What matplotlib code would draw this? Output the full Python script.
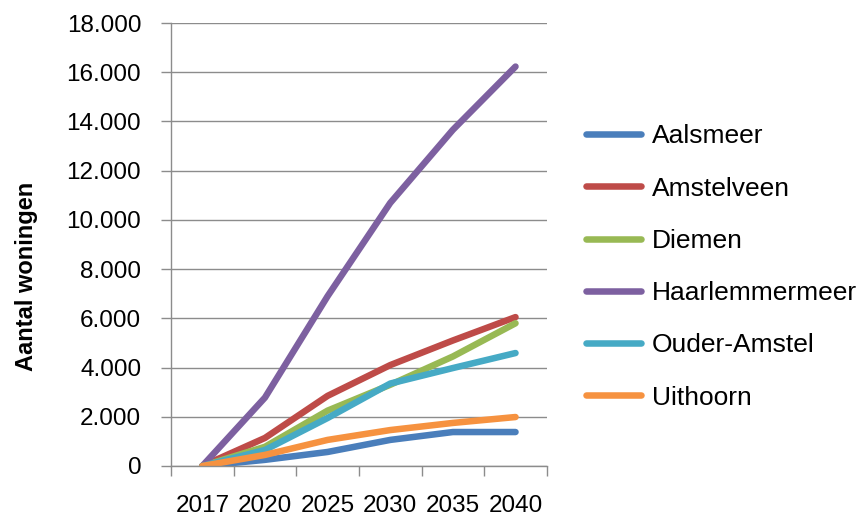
import numpy as np
import matplotlib.pyplot as plt

# categories and series
years = ['2017', '2020', '2025', '2030', '2035', '2040']
aalsmeer = [0, 250, 570, 1060, 1380, 1380]
amstelveen = [0, 1140, 2850, 4100, 5100, 6050]
diemen = [0, 780, 2250, 3300, 4450, 5800]
haarlemmermeer = [0, 2780, 6900, 10690, 13660, 16230]
ouder_amstel = [0, 650, 1950, 3350, 3980, 4590]
uithoorn = [0, 450, 1060, 1460, 1750, 1990]

names = ['Aalsmeer', 'Amstelveen', 'Diemen', 'Haarlemmermeer', 'Ouder-Amstel', 'Uithoorn']
series = [aalsmeer, amstelveen, diemen, haarlemmermeer, ouder_amstel, uithoorn]
colors = ['#4A7EBB', '#BE4B48', '#98B954', '#7D60A0', '#46AAC5', '#F69240']

plt.rcParams['font.family'] = ['Liberation Sans', 'DejaVu Sans']

fig = plt.figure(figsize=(8.68, 5.16), dpi=100)
ax = fig.add_axes([0.197, 0.0969, 0.433, 0.8585])

x = np.arange(1, len(years) + 1)
for vals, name, c in zip(series, names, colors):
    ax.plot(x, vals, color=c, lw=4.7, label=name,
            solid_capstyle='round', solid_joinstyle='round')

# y axis
ax.set_ylim(0, 18000)
ax.set_yticks(np.arange(0, 18001, 2000))
ax.set_yticklabels(['0' if v == 0 else f'{v:,}'.replace(',', '.') for v in range(0, 18001, 2000)])
ax.yaxis.grid(True, color='#8c8c8c', lw=1.0)
ax.set_axisbelow(True)
ax.set_ylabel('Aantal woningen', fontsize=17, fontweight='bold')
ax.yaxis.set_label_coords(-0.353, 0.427)

# x axis: ticks at category edges, labels centred
ax.set_xlim(0.5, len(years) + 0.5)
ax.set_xticks(np.arange(0.5, len(years) + 1, 1))
ax.set_xticklabels([])
ax.set_xticks(x, minor=True)
ax.set_xticklabels(years, minor=True)
ax.tick_params(axis='x', which='minor', length=0, pad=21, labelsize=17.5)
ax.tick_params(axis='x', which='major', length=7.5, color='#8c8c8c', width=1)
ax.tick_params(axis='y', length=7.5, color='#8c8c8c', width=1, pad=14, labelsize=17.5)

for s in ['top', 'right']:
    ax.spines[s].set_visible(False)
for s in ['left', 'bottom']:
    ax.spines[s].set_color('#8c8c8c')
    ax.spines[s].set_linewidth(1)

fig.legend(loc='center left', bbox_to_anchor=(586 / 868, 1 - 267 / 516),
           frameon=False, fontsize=19, handlelength=2.1, handletextpad=0.4,
           labelspacing=1.07, borderpad=0, borderaxespad=0)

plt.savefig('out.png', dpi=100)
